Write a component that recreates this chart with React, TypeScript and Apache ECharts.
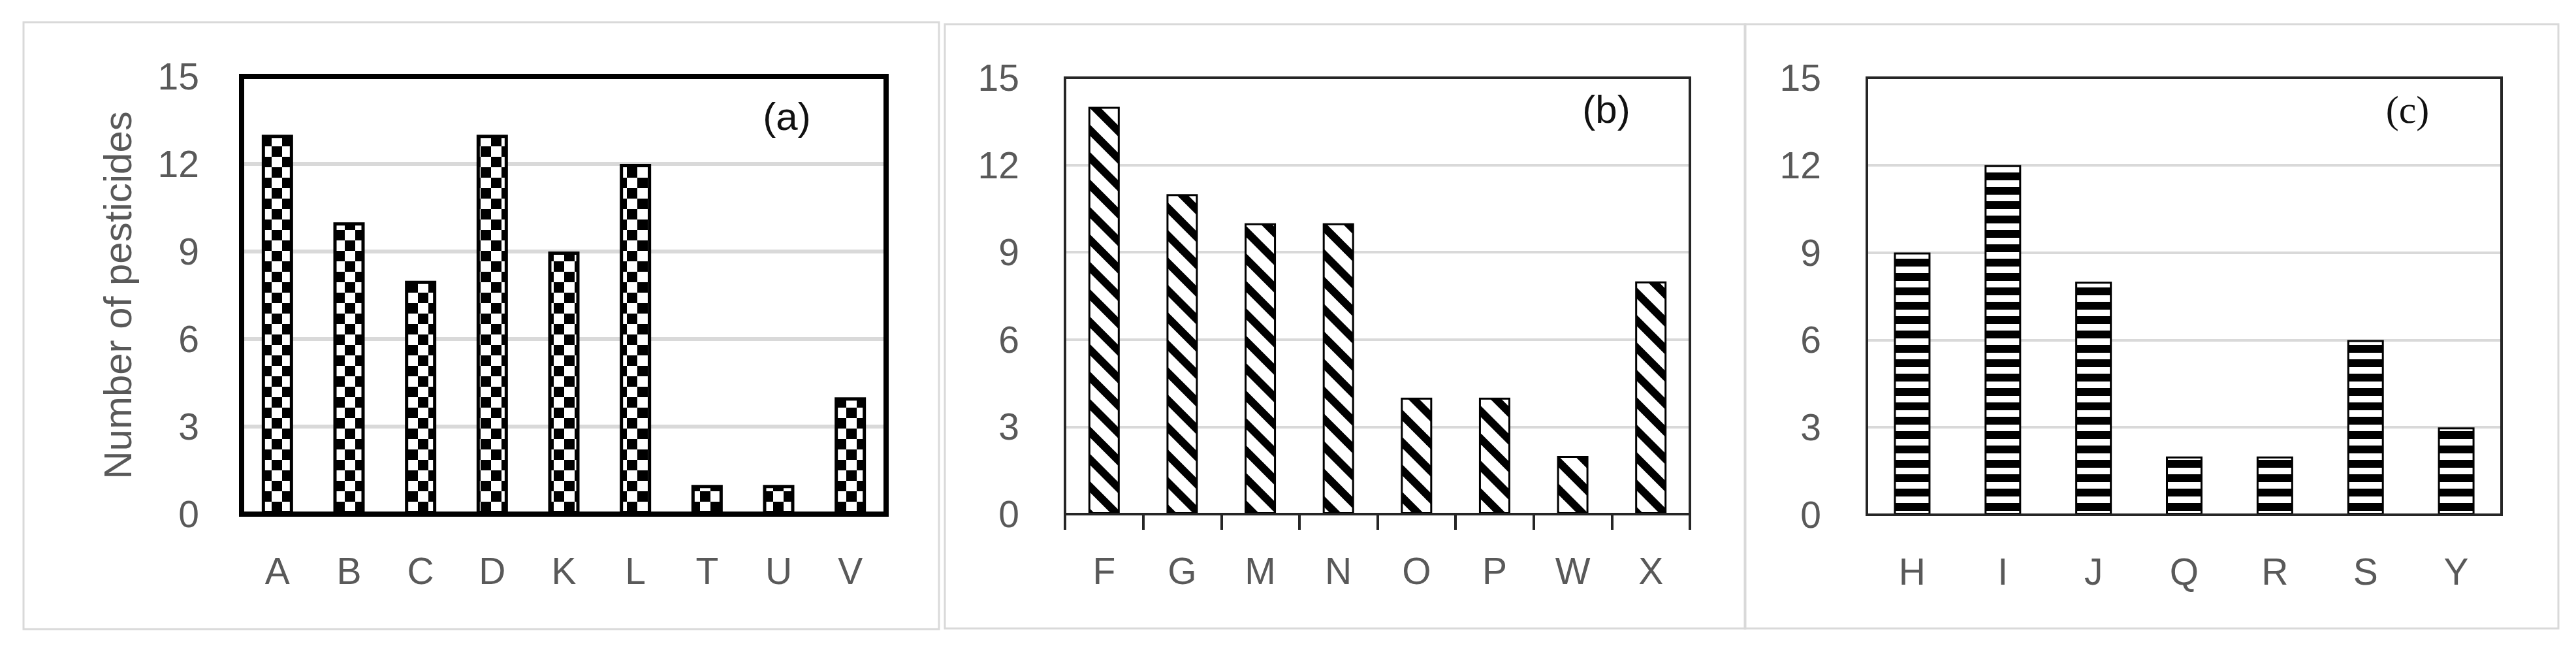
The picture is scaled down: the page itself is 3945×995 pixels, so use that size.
import React, { useEffect, useRef } from "react";
import * as echarts from "echarts";

// ---- data ----
const catsA = ["A", "B", "C", "D", "K", "L", "T", "U", "V"];
const valsA = [13, 10, 8, 13, 9, 12, 1, 1, 4];
const catsB = ["F", "G", "M", "N", "O", "P", "W", "X"];
const valsB = [14, 11, 10, 10, 4, 4, 2, 8];
const catsC = ["H", "I", "J", "Q", "R", "S", "Y"];
const valsC = [9, 12, 8, 2, 2, 6, 3];
const yMin = 0;
const yMax = 15;
const yStep = 3;
const panelLabels = ["(a)", "(b)", "(c)"];
const yTitle = "Number of pesticides";

const NARROW = "'Liberation Sans Narrow', 'Arial Narrow', 'Liberation Sans', sans-serif";
const SANS = "'Liberation Sans', Arial, sans-serif";
const SERIF = "'Liberation Serif', 'DejaVu Serif', serif";
const GRAY = "#595959";

function makeTile(w: number, h: number, draw: (ctx: CanvasRenderingContext2D) => void) {
  const c = document.createElement("canvas");
  c.width = w;
  c.height = h;
  const ctx = c.getContext("2d")!;
  ctx.fillStyle = "#fff";
  ctx.fillRect(0, 0, w, h);
  ctx.fillStyle = "#000";
  ctx.strokeStyle = "#000";
  draw(ctx);
  return { image: c.toDataURL(), repeat: "repeat", imageWidth: w, imageHeight: h } as any;
}

function buildOption() {
  const checker = makeTile(32, 32, (ctx) => {
    ctx.fillRect(0, 0, 16, 16);
    ctx.fillRect(16, 16, 16, 16);
  });
  const diag = makeTile(42, 42, (ctx) => {
    const P = 42;
    ctx.lineWidth = 12;
    for (let k = -1; k <= 1; k++) {
      ctx.beginPath();
      ctx.moveTo(k * P - 6, -6);
      ctx.lineTo(k * P + P + 6, P + 6);
      ctx.stroke();
    }
  });
  const horiz = makeTile(8, 22, (ctx) => {
    ctx.fillRect(0, 0, 8, 12);
  });

  const grids = [
    { left: 370, top: 117, width: 987, height: 670 },
    { left: 1631, top: 119, width: 957, height: 668 },
    { left: 2859, top: 119, width: 972, height: 669 },
  ];
  const frameColors = ["#000", "#262626", "#262626"];
  const frameWidths = [8, 4, 4];

  const cats = [catsA, catsB, catsC];
  const vals = [valsA, valsB, valsC];
  const fills = [checker, diag, horiz];
  const barWidths = [48, 48, 56];
  const barBorders = [5, 3, 3];
  const gridWidths = [6, 4, 4];

  const xAxis = cats.map((c, i) => ({
    gridIndex: i,
    type: "category",
    data: c,
    axisLine: i === 1 ? { show: true, lineStyle: { color: "#262626", width: 4 } } : { show: false },
    axisTick: i === 1
      ? { show: true, interval: 0, length: 24, lineStyle: { color: "#262626", width: 4 } }
      : { show: false },
    axisLabel: { color: GRAY, fontSize: 57, fontFamily: NARROW, margin: 58, interval: 0 },
  }));

  const yAxis = cats.map((_, i) => ({
    gridIndex: i,
    type: "value",
    min: yMin,
    max: yMax,
    interval: yStep,
    axisLine: { show: false },
    axisTick: { show: false },
    axisLabel: { color: GRAY, fontSize: 57, fontFamily: NARROW, margin: i === 0 ? 65 : 70 },
    splitLine: {
      show: true,
      showMinLine: false,
      showMaxLine: false,
      lineStyle: { color: "#d9d9d9", width: gridWidths[i] },
    },
    ...(i === 0
      ? {
          name: yTitle,
          nameLocation: "middle",
          nameRotate: 90,
          nameGap: 160,
          nameTextStyle: { color: GRAY, fontSize: 60, fontFamily: SANS },
        }
      : {}),
  }));

  const series = vals.map((v, i) => ({
    type: "bar",
    xAxisIndex: i,
    yAxisIndex: i,
    data: v,
    barWidth: barWidths[i],
    itemStyle: { color: fills[i], borderColor: "#000", borderWidth: barBorders[i] },
  }));

  const frames = grids.map((g, i) => ({
    type: "rect",
    z: 50,
    silent: true,
    shape: { x: g.left, y: g.top, width: g.width, height: g.height },
    style: { fill: "none", stroke: frameColors[i], lineWidth: frameWidths[i] },
  }));

  const graphic = [
    { type: "rect", shape: { x: 36, y: 34, width: 1402, height: 929 }, style: { fill: "none", stroke: "#d9d9d9", lineWidth: 3 }, silent: true },
    { type: "rect", shape: { x: 1447, y: 37, width: 1226, height: 925 }, style: { fill: "none", stroke: "#d9d9d9", lineWidth: 3 }, silent: true },
    { type: "rect", shape: { x: 2672, y: 37, width: 1246, height: 925 }, style: { fill: "none", stroke: "#d9d9d9", lineWidth: 3 }, silent: true },
    ...frames,
    { type: "text", x: 1205, y: 178, style: { text: panelLabels[0], fill: "#111", font: `60px ${SANS}`, align: "center", verticalAlign: "middle" } },
    { type: "text", x: 2460, y: 167, style: { text: panelLabels[1], fill: "#111", font: `60px ${SANS}`, align: "center", verticalAlign: "middle" } },
    { type: "text", x: 3687, y: 168, style: { text: panelLabels[2], fill: "#111", font: `60px ${SERIF}`, align: "center", verticalAlign: "middle" } },
  ];

  return {
    animation: false,
    backgroundColor: "#fff",
    grid: grids,
    xAxis,
    yAxis,
    series,
    graphic,
  };
}

export default function App() {
  const ref = useRef<HTMLDivElement>(null);
  useEffect(() => {
    document.body.style.margin = "0";
    const chart = echarts.init(ref.current!, undefined, { renderer: "svg" });
    chart.setOption(buildOption() as any);
    return () => chart.dispose();
  }, []);
  return <div ref={ref} style={{ width: 3945, height: 995, background: "#fff" }} />;
}
